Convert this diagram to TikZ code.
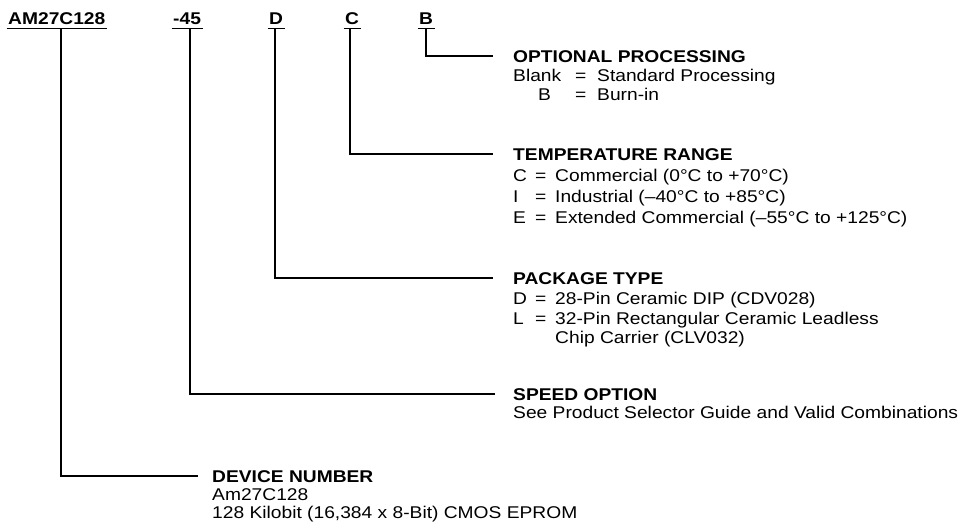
\documentclass[tikz,border=0pt]{standalone}
\usepackage{fontspec}
\setmainfont{Liberation Sans}[FakeStretch=1.13]
\begin{document}
\begin{tikzpicture}[x=1pt,y=-1pt,
  lab/.style={font=\bfseries\fontsize{17}{19}\selectfont, inner sep=0pt, anchor=base west},
  head/.style={font=\bfseries\fontsize{17}{19}\selectfont, inner sep=0pt, anchor=base west},
  body/.style={font=\fontsize{17}{19}\selectfont, inner sep=0pt, anchor=base west},
  uline/.style={line width=1.7pt},
  conn/.style={line width=1.9pt}]
\useasboundingbox (0,0) rectangle (965,528);

% top code labels
\node[lab] (am) at (8,24) {AM27C128};
\node[lab] (sp) at (173,24) {-45};
\node[lab] (pk) at (269,24) {D};
\node[lab] (tr) at (345,24) {C};
\node[lab] (opn) at (419,24) {B};

\foreach \n in {am,sp,pk,tr,opn}
  \draw[uline] ([xshift=-1.5pt,yshift=-4.5pt]\n.base west) -- ([xshift=1.5pt,yshift=-4.5pt]\n.base east);

% headings
\node[head] (ophead) at (513,62) {OPTIONAL PROCESSING};
\node[head] (trhead) at (513,160) {TEMPERATURE RANGE};
\node[head] (pkhead) at (513,284) {PACKAGE TYPE};
\node[head] (sphead) at (513,400) {SPEED OPTION};
\node[head] (dnhead) at (212,482) {DEVICE NUMBER};

% optional processing
\node[body] (op1a) at (513,81) {Blank};
\node[body] (op1b) at (575,81) {=};
\node[body] (op1c) at (597,81) {Standard Processing};
\node[body] (op2a) at (538,100) {B};
\node[body] (op2b) at (575,100) {=};
\node[body] (op2c) at (597,100) {Burn-in};

% temperature range
\node[body] (tr1a) at (513,181) {C};
\node[body] (tr1b) at (535,181) {=};
\node[body] (tr1c) at (555,181) {Commercial (0°C to +70°C)};
\node[body] (tr2a) at (513,202) {I};
\node[body] (tr2b) at (535,202) {=};
\node[body] (tr2c) at (555,202) {Industrial (–40°C to +85°C)};
\node[body] (tr3a) at (513,223) {E};
\node[body] (tr3b) at (535,223) {=};
\node[body] (tr3c) at (555,223) {Extended Commercial (–55°C to +125°C)};

% package type
\node[body] (pk1a) at (513,304) {D};
\node[body] (pk1b) at (535,304) {=};
\node[body] (pk1c) at (555,304) {28-Pin Ceramic DIP (CDV028)};
\node[body] (pk2a) at (513,324) {L};
\node[body] (pk2b) at (535,324) {=};
\node[body] (pk2c) at (555,324) {32-Pin Rectangular Ceramic Leadless};
\node[body] (pk3c) at (555,343) {Chip Carrier (CLV032)};

% speed option
\node[body] (sp1) at (513,418) {See Product Selector Guide and Valid Combinations};

% device number
\node[body] (dn1) at (212,500) {Am27C128};
\node[body] (dn2) at (212,518) {128 Kilobit (16,384 x 8-Bit) CMOS EPROM};

% connectors
\draw[conn] ([xshift=0pt,yshift=-4.5pt]opn.base) |- ([xshift=-20pt]ophead.west);
\draw[conn] ([xshift=-2.5pt,yshift=-4.5pt]tr.base) |- ([xshift=-20pt]trhead.west);
\draw[conn] ([xshift=-1pt,yshift=-4.5pt]pk.base) |- ([xshift=-20pt]pkhead.west);
\draw[conn] ([xshift=3pt,yshift=-4.5pt]sp.base) |- ([xshift=-18pt]sphead.west);
\draw[conn] ([xshift=4pt,yshift=-4.5pt]am.base) |- ([xshift=-14pt]dnhead.west);
\end{tikzpicture}
\end{document}
